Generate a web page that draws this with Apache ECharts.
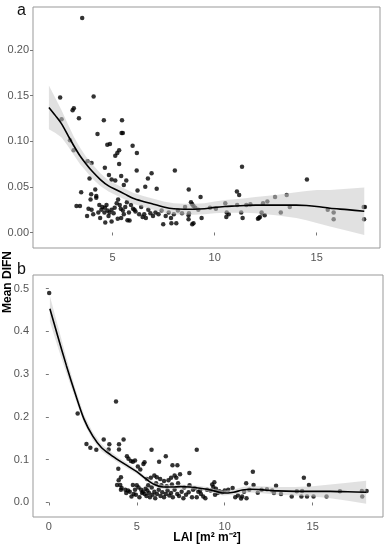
<!DOCTYPE html>
<html><head><meta charset="utf-8">
<script src="https://cdn.jsdelivr.net/npm/echarts@6/dist/echarts.min.js"></script>
<style>html,body{margin:0;padding:0;background:#fff}#c{width:388px;height:550px}</style>
</head><body><div id="c"></div>
<script>
// ---- Panel a: points [LAI, mean DIFN]
const topPoints = [
[3.51,0.235],[2.43,0.148],[4.07,0.149],[3.04,0.134],[3.10,0.136],[2.50,0.124],[3.35,0.125],[4.57,0.123],[5.46,0.123],
[4.26,0.108],[5.44,0.109],[5.50,0.109],[4.74,0.096],[4.87,0.097],[5.98,0.095],[2.91,0.101],[3.09,0.090],[5.32,0.090],
[5.23,0.087],[5.13,0.084],[6.19,0.087],[3.77,0.078],[3.97,0.076],[5.32,0.075],[4.62,0.071],[6.18,0.068],[8.05,0.068],
[4.82,0.063],[5.42,0.062],[6.91,0.065],[3.87,0.059],[4.95,0.058],[5.13,0.057],[5.67,0.057],[6.73,0.059],[7.16,0.048],
[6.60,0.050],[6.22,0.046],[5.55,0.052],[8.73,0.047],[4.15,0.047],[3.46,0.044],[3.95,0.042],[4.20,0.040],[3.92,0.036],
[4.20,0.038],[3.23,0.029],[3.40,0.029],[3.82,0.026],[3.97,0.025],
[4.35,0.030],[4.50,0.028],[4.62,0.027],[4.70,0.030],[4.60,0.022],[4.75,0.024],[4.85,0.022],[4.95,0.025],[5.05,0.021],
[5.10,0.027],[5.20,0.032],[5.27,0.036],[5.35,0.030],[5.40,0.026],[5.50,0.024],[5.55,0.020],[5.62,0.028],[5.70,0.033],
[5.80,0.022],[5.90,0.030],[6.00,0.026],[6.07,0.025],[6.12,0.023],[6.30,0.020],[6.40,0.028],[6.47,0.017],[6.55,0.020],
[6.63,0.016],[6.75,0.025],[6.85,0.021],[6.98,0.018],[7.10,0.022],[7.25,0.020],[7.40,0.024],[7.48,0.009],[7.60,0.018],
[7.75,0.022],[7.86,0.016],[7.88,0.010],[8.12,0.010],[8.00,0.020],[8.20,0.024],[8.40,0.021],[8.55,0.028],[8.74,0.021],
[8.90,0.009],[8.96,0.010],[8.72,0.019],[8.72,0.0145],[8.84,0.033],[8.90,0.031],[8.96,0.029],[9.05,0.027],[9.31,0.039],
[9.36,0.016],[9.20,0.025],[9.77,0.027],[10.06,0.026],[10.52,0.032],[10.59,0.022],[10.69,0.020],[10.57,0.017],[11.09,0.045],
[11.20,0.041],[11.34,0.072],[11.10,0.030],[11.30,0.022],[11.37,0.016],[11.55,0.030],[11.75,0.031],[12.17,0.016],[12.22,0.017],
[12.12,0.015],[12.30,0.022],[12.37,0.032],[12.45,0.019],[12.58,0.034],[12.96,0.039],[13.24,0.022],[13.53,0.041],[13.68,0.028],
[14.52,0.058],[15.54,0.025],[15.83,0.022],[15.83,0.0145],[17.30,0.028],[17.36,0.028],[17.32,0.0145],
[4.39,0.016],[4.64,0.011],[4.95,0.012],[5.42,0.016],[5.73,0.0135],[5.83,0.013],[4.80,0.018],[5.25,0.015],[4.45,0.025],
[4.30,0.022],[3.75,0.018],[4.05,0.020]
];
const topCurveX = [1.88,2.2,2.5,2.8,3.1,3.4,3.7,4.0,4.4,4.8,5.2,5.6,6.0,6.5,7.0,7.5,8.0,8.5,9.0,9.5,10.0,10.5,11.0,11.5,12.0,13.0,14.0,14.5,15.0,15.65,16.5,17.33];
const topCurveY = [0.137,0.128,0.119,0.107,0.095,0.084,0.075,0.067,0.058,0.051,0.0465,0.042,0.0375,0.034,0.031,0.028,0.026,0.0255,0.0255,0.026,0.0275,0.0285,0.029,0.0295,0.030,0.030,0.030,0.0295,0.0285,0.0265,0.025,0.0232];
const topLower = [0.113,0.109,0.104,0.095,0.085,0.075,0.067,0.059,0.051,0.045,0.0405,0.036,0.0315,0.028,0.025,0.022,0.020,0.0195,0.0195,0.020,0.021,0.0215,0.0215,0.0215,0.021,0.019,0.016,0.0135,0.0105,0.0065,0.002,-0.0028];
const topUpper = [0.161,0.147,0.134,0.119,0.105,0.093,0.083,0.075,0.065,0.057,0.0525,0.048,0.0435,0.040,0.037,0.034,0.032,0.0315,0.0315,0.032,0.034,0.0355,0.0365,0.0375,0.039,0.041,0.044,0.0455,0.0465,0.0465,0.048,0.0492];

// ---- Panel b
const botPoints = [
[0.02,0.49],[3.82,0.236],[1.64,0.208],[2.14,0.137],[2.36,0.128],[2.70,0.123],[3.12,0.147],[3.44,0.136],[3.40,0.124],
[3.99,0.136],[3.99,0.124],[4.25,0.147],[3.95,0.079],
[4.44,0.108],[4.53,0.102],[4.67,0.097],[4.78,0.095],[4.90,0.098],[5.06,0.084],[5.20,0.077],[5.38,0.090],[5.44,0.094],
[5.84,0.123],[6.65,0.108],[6.27,0.095],[7.03,0.087],[7.31,0.087],[7.99,0.069],[8.41,0.123],[7.46,0.066],
[4.10,0.059],[3.97,0.052],[3.88,0.041],[4.06,0.041],[4.14,0.034],[4.10,0.030],[4.35,0.030],[4.50,0.028],[4.70,0.014],
[4.82,0.020],[4.90,0.030],[4.78,0.041],
[5.57,0.055],[5.80,0.058],[6.00,0.063],[6.14,0.059],[6.33,0.055],[6.55,0.050],[6.80,0.052],[6.95,0.058],[7.15,0.063],[7.25,0.058],
[5.00,0.040],[5.10,0.035],[5.25,0.030],[5.35,0.025],[5.45,0.020],[5.55,0.015],[5.60,0.028],[5.70,0.022],[5.75,0.012],
[5.90,0.018],[6.00,0.025],[6.05,0.010],[6.15,0.020],[6.25,0.030],[6.35,0.015],[6.45,0.024],[6.55,0.012],[6.65,0.020],
[6.75,0.028],[6.85,0.016],[6.95,0.022],[7.05,0.012],[7.15,0.030],[7.30,0.020],[7.40,0.015],[7.55,0.025],[7.65,0.010],
[7.80,0.018],[7.95,0.024],[8.14,0.012],[8.41,0.012],[8.78,0.014],[8.90,0.010],[8.20,0.030],[8.50,0.025],[8.65,0.020],
[9.41,0.047],[9.29,0.042],[9.35,0.036],[9.50,0.032],[9.20,0.028],[9.60,0.022],[9.45,0.018],[9.70,0.026],[9.85,0.024],
[10.00,0.028],[10.20,0.030],[10.45,0.034],[10.75,0.016],[10.99,0.014],[10.60,0.012],[10.93,0.009],[11.24,0.010],[11.22,0.045],
[11.60,0.072],[11.64,0.041],[11.10,0.025],[11.40,0.030],[11.88,0.023],[12.10,0.030],[12.40,0.031],[12.70,0.028],[12.92,0.039],
[12.80,0.022],[13.20,0.020],[13.81,0.014],[14.10,0.026],[14.40,0.027],[14.36,0.014],[14.50,0.058],[14.79,0.041],[14.68,0.014],
[15.05,0.014],[15.79,0.014],[16.55,0.026],[17.80,0.027],[17.82,0.014],[18.07,0.027],
[4.60,0.025],[4.95,0.018],[5.15,0.012],[5.30,0.022],[4.40,0.022],[5.50,0.032],[5.65,0.040],[5.85,0.035],[6.10,0.045],
[6.40,0.040],[6.70,0.038],[7.00,0.042],[7.35,0.045],[7.70,0.035],[8.00,0.040],[8.30,0.033],[8.60,0.028],[9.00,0.030]
];
const botCurveX = [0.06,0.5,1.0,1.5,2.0,2.5,3.0,3.5,4.0,4.5,5.0,5.5,6.0,6.5,7.0,7.5,8.0,8.5,9.0,9.5,9.9,10.5,11.0,11.5,12.0,13.0,14.0,15.0,16.0,17.0,18.04];
const botCurveY = [0.453,0.39,0.32,0.255,0.195,0.155,0.128,0.112,0.098,0.085,0.072,0.056,0.042,0.036,0.036,0.037,0.036,0.034,0.031,0.026,0.022,0.024,0.029,0.031,0.030,0.027,0.026,0.026,0.026,0.025,0.024];
const botLower = [0.423,0.365,0.302,0.243,0.185,0.146,0.120,0.105,0.092,0.079,0.067,0.051,0.037,0.031,0.031,0.032,0.031,0.029,0.026,0.021,0.016,0.018,0.022,0.0235,0.022,0.018,0.016,0.014,0.010,0.004,-0.003];
const botUpper = [0.483,0.415,0.338,0.267,0.205,0.164,0.136,0.119,0.104,0.091,0.077,0.061,0.047,0.041,0.041,0.042,0.041,0.039,0.036,0.031,0.028,0.030,0.036,0.0385,0.038,0.036,0.036,0.038,0.042,0.046,0.051];

const topXTicks = [5,10,15];
const botXTicks = [0,5,10,15];
const topYTicks = [0,0.05,0.10,0.15,0.20];
const botYTicks = [0,0.1,0.2,0.3,0.4,0.5];
const panelLabels = ['a','b'];
const xTitle = 'LAI [m\u00B2 m\u207B\u00B2]';
const yTitle = 'Mean DIFN';

const FONT = 'Liberation Sans, Arial, sans-serif';
const chart = echarts.init(document.getElementById('c'), null, {renderer:'canvas'});

function xAx(idx, min, max, ticks){
  return {type:'value', gridIndex:idx, min:min, max:max,
    axisLine:{show:false}, splitLine:{show:false},
    axisTick:{show:true, length:3, lineStyle:{color:'#777'}, customValues:ticks},
    axisLabel:{color:'#555', fontSize:11, fontFamily:FONT, margin:4, customValues:ticks}};
}
function yAx(idx, min, max, ticks, dec){
  return {type:'value', gridIndex:idx, min:min, max:max,
    axisLine:{show:false}, splitLine:{show:false},
    axisTick:{show:true, length:3, lineStyle:{color:'#777'}, customValues:ticks},
    axisLabel:{color:'#555', fontSize:11, fontFamily:FONT, margin:4, customValues:ticks,
      formatter:v=>v.toFixed(dec)}};
}
function panelSeries(idx, pts, cx, cy, lo, hi){
  return [
    {type:'scatter', xAxisIndex:idx, yAxisIndex:idx, data:pts, symbolSize:4.5,
      itemStyle:{color:'#000'}, z:2, silent:true},
    {type:'custom', xAxisIndex:idx, yAxisIndex:idx, data:[[cx[0], cy[0]]], z:3, silent:true, clip:true,
      renderItem:function(params, api){
        const upperPts = cx.map((x,i)=>api.coord([x,hi[i]]));
        const lowerPts = cx.map((x,i)=>api.coord([x,lo[i]])).reverse();
        return {type:'polygon', shape:{points:upperPts.concat(lowerPts)},
          style:{fill:'#c8c8c8', opacity:0.55}};
      }},
    {type:'line', xAxisIndex:idx, yAxisIndex:idx, data:cx.map((x,i)=>[x,cy[i]]),
      symbol:'none', smooth:0.3, lineStyle:{color:'#000', width:1.6}, z:4, silent:true}
  ];
}

chart.setOption({
  animation:false,
  backgroundColor:'#fff',
  grid:[
    {left:33, top:7, width:347, height:241, show:true, borderColor:'#999', borderWidth:1, backgroundColor:'transparent'},
    {left:33, top:275, width:350, height:242, show:true, borderColor:'#999', borderWidth:1, backgroundColor:'transparent'}
  ],
  xAxis:[xAx(0,1.1,18.1,topXTicks), xAx(1,-0.9,19.0,botXTicks)],
  yAxis:[yAx(0,-0.017,0.247,topYTicks,2), yAx(1,-0.034,0.532,botYTicks,1)],
  series:[].concat(
    panelSeries(0, topPoints, topCurveX, topCurveY, topLower, topUpper),
    panelSeries(1, botPoints, botCurveX, botCurveY, botLower, botUpper)
  ),
  graphic:[
    {type:'text', left:17, top:3, style:{text:panelLabels[0], font:'16px '+FONT, fill:'#111'}},
    {type:'text', left:17, top:262, style:{text:panelLabels[1], font:'16px '+FONT, fill:'#111'}},
    {type:'text', x:2, y:282, rotation:Math.PI/2,
      style:{text:yTitle, font:'bold 12px '+FONT, fill:'#000', align:'center', verticalAlign:'top'}},
    {type:'text', x:207, y:532, style:{text:xTitle, font:'bold 12px '+FONT, fill:'#000', align:'center', verticalAlign:'top'}}
  ]
});
</script></body></html>
